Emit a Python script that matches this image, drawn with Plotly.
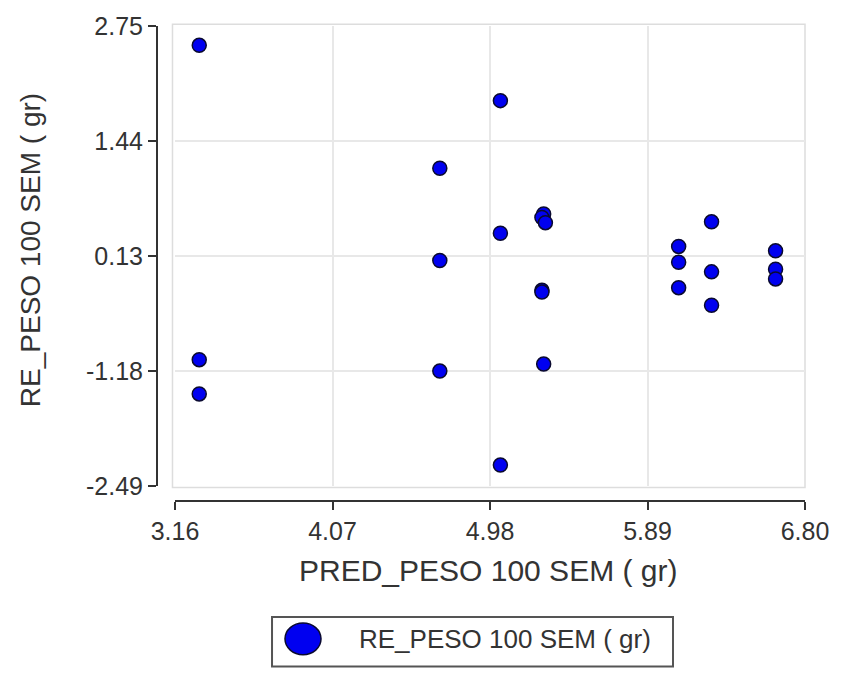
import plotly.graph_objects as go

# ---- data ----
pred_peso = [3.30, 3.30, 3.30,
             4.69, 4.69, 4.69,
             5.04, 5.04, 5.04,
             5.29, 5.28, 5.30, 5.28, 5.28, 5.29,
             6.07, 6.07, 6.07,
             6.26, 6.26, 6.26,
             6.63, 6.63, 6.63]
re_peso = [2.53, -1.05, -1.44,
           1.13, 0.08, -1.18,
           1.90, 0.39, -2.25,
           0.61, 0.57, 0.51, -0.26, -0.28, -1.10,
           0.24, 0.06, -0.23,
           0.52, -0.05, -0.43,
           0.19, -0.02, -0.13]

x_ticks = [3.16, 4.07, 4.98, 5.89, 6.80]
x_ticktext = ["3.16", "4.07", "4.98", "5.89", "6.80"]
y_ticks = [-2.49, -1.18, 0.13, 1.44, 2.75]
y_ticktext = ["-2.49", "-1.18", "0.13", "1.44", "2.75"]

x_title = "PRED_PESO 100 SEM ( gr)"
y_title = "RE_PESO 100 SEM ( gr)"
legend_label = "RE_PESO 100 SEM ( gr)"

FONT = "Liberation Sans, Arial, sans-serif"
TXT = "#333333"
BLUE = "#0000f0"

fig = go.Figure()
fig.add_trace(go.Scatter(
    x=pred_peso, y=re_peso, mode="markers", name=legend_label,
    marker=dict(size=14, color=BLUE, line=dict(color="#0a0a30", width=1.5)),
    showlegend=False,
))

axis_common = dict(
    showline=True, linewidth=2, linecolor="#333333",
    ticks="outside", ticklen=8, tickwidth=2, tickcolor="#333333",
    showgrid=True, gridcolor="#e8e8e8", gridwidth=1.5,
    zeroline=False,
    tickfont=dict(family=FONT, size=25, color=TXT),
)

fig.update_layout(
    width=842, height=673,
    margin=dict(l=157, r=37, t=22, b=172),
    paper_bgcolor="white", plot_bgcolor="white",
    xaxis=dict(range=[3.16, 6.80], domain=[0.0278, 1], anchor="free", position=0,
               tickvals=x_ticks, ticktext=x_ticktext, **axis_common),
    yaxis=dict(range=[-2.49, 2.75], domain=[0.0313, 1], anchor="free", position=0,
               tickvals=y_ticks, ticktext=y_ticktext, **axis_common),
    showlegend=False,
)

# light frame around the data area
fig.add_shape(type="rect", xref="x domain", yref="y domain",
              x0=-0.004, x1=1.0, y0=-0.003, y1=1.004,
              line=dict(color="#dddddd", width=1.5), layer="below")

# axis titles
fig.add_annotation(text=x_title, xref="paper", yref="paper", x=0.511, y=-0.146,
                   showarrow=False, xanchor="center", yanchor="middle",
                   font=dict(family=FONT, size=30, color=TXT))
fig.add_annotation(text=y_title, xref="paper", yref="paper", x=-0.196, y=0.528,
                   showarrow=False, textangle=-90, xanchor="center", yanchor="middle",
                   font=dict(family=FONT, size=28, color=TXT))

# legend box (drawn)
fig.add_shape(type="rect", xref="paper", yref="paper",
              x0=0.1775, x1=0.7963, y0=-0.3486, y1=-0.2443,
              line=dict(color="#555555", width=2), fillcolor="white")
fig.add_shape(type="circle", xref="paper", yref="paper",
              x0=0.1975, x1=0.2531, y0=-0.3236, y1=-0.2568,
              line=dict(color="#0a0a30", width=1.5), fillcolor=BLUE)
fig.add_annotation(text=legend_label, xref="paper", yref="paper", x=0.3086, y=-0.2902,
                   showarrow=False, xanchor="left", yanchor="middle",
                   font=dict(family=FONT, size=26, color=TXT))

fig.write_html("out.html")
